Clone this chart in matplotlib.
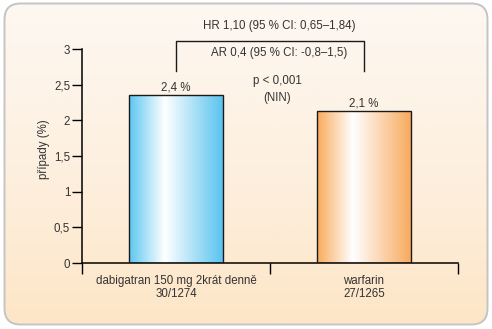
import numpy as np
import matplotlib.pyplot as plt
from matplotlib.colors import LinearSegmentedColormap
from matplotlib.patches import FancyBboxPatch, Rectangle

# --- Data ---
groups = ["dabigatran 150 mg 2krát denně", "warfarin"]
events = [30, 27]
patients = [1274, 1265]
rates = [100 * e / n for e, n in zip(events, patients)]
hr_text = "HR 1,10 (95 % CI: 0,65–1,84)"
ar_text = "AR 0,4 (95 % CI: -0,8–1,5)"
p_text = "p < 0,001"
nin_text = "(NIN)"
y_ticks = [0, 0.5, 1, 1.5, 2, 2.5, 3]
y_tick_labels = ["0", "0,5", "1", "1,5", "2", "2,5", "3"]

# --- Style ---
plt.rcParams["font.family"] = ["Liberation Sans", "DejaVu Sans"]
TXT = "#333333"
FS = 8.3
bar_edges = [("#5cc7f2", "#5ac4f0"), ("#f9ab5c", "#f8aa5e")]

fig = plt.figure(figsize=(4.92, 3.29), dpi=100)

# --- Rounded panel with vertical gradient ---
bg = fig.add_axes([0, 0, 1, 1], zorder=0)
bg.set_xlim(0, 492)
bg.set_ylim(329, 0)
bg.axis("off")
panel = FancyBboxPatch((4.5, 3.5), 483, 321, boxstyle="round,pad=0,rounding_size=16",
                       facecolor="none", edgecolor="#c4c4c4", linewidth=1.4, zorder=3)
bg.add_patch(panel)
bg_cmap = LinearSegmentedColormap.from_list("panel", ["#fdf8f2", "#fdf0e0", "#fde6c7"])
grad = np.linspace(0, 1, 256).reshape(-1, 1)
im = bg.imshow(grad, cmap=bg_cmap, extent=(4.5, 487.5, 324.5, 3.5), aspect="auto", zorder=1)
im.set_clip_path(panel)

# --- Main axes ---
ax = fig.add_axes([82 / 492, 66 / 329, 376 / 492, 214 / 329], zorder=2)
ax.patch.set_alpha(0)

width = 0.5
for i, (rate, (c_left, c_right)) in enumerate(zip(rates, bar_edges)):
    x0 = i - width / 2
    cmap = LinearSegmentedColormap.from_list(
        f"bar{i}", [(0, c_left), (0.38, "#ffffff"), (1, c_right)])
    img = ax.imshow(np.linspace(0, 1, 256).reshape(1, -1), cmap=cmap,
                    extent=(x0, x0 + width, 0, rate), aspect="auto", zorder=2)
    rect = Rectangle((x0, 0), width, rate, facecolor="none", edgecolor="#1a1a1a",
                     linewidth=1.0, zorder=3)
    ax.add_patch(rect)
    img.set_clip_path(rect)
    ax.text(i, rate + 0.02, f"{rate:.1f} %".replace(".", ","), ha="center", va="bottom",
            fontsize=FS, color=TXT)

ax.set_xlim(-0.5, 1.5)
ax.set_ylim(0, 3)

# --- Axes styling ---
for side in ["top", "right"]:
    ax.spines[side].set_visible(False)
ax.spines["left"].set_linewidth(1.1)
ax.spines["bottom"].set_linewidth(1.1)
ax.set_yticks(y_ticks)
ax.set_yticklabels(y_tick_labels, fontsize=FS, color=TXT)
ax.tick_params(axis="y", length=7, width=1.0, pad=1.5)
ax.set_xticks([-0.5, 0.5, 1.5])
ax.set_xticklabels([])
ax.tick_params(axis="x", direction="out", length=8, width=1.0)
for i, (g, e, n) in enumerate(zip(groups, events, patients)):
    ax.text(i, -0.17, f"{g}\n{e}/{n}", ha="center", va="top", fontsize=FS,
            color=TXT, linespacing=1.1)
ax.set_ylabel("případy (%)", fontsize=FS, color=TXT)
ax.yaxis.set_label_coords(-0.085, 0.53)

# --- Comparison bracket ---
ax.plot([0, 0, 1, 1], [2.69, 3.11, 3.11, 2.69], color="#1a1a1a", lw=1.0, clip_on=False)
ax.text(0.55, 3.32, hr_text, ha="center", va="center", fontsize=FS, color=TXT)
ax.text(0.55, 2.94, ar_text, ha="center", va="center", fontsize=FS, color=TXT)
ax.text(0.54, 2.55, p_text, ha="center", va="center", fontsize=FS, color=TXT)
ax.text(0.54, 2.31, nin_text, ha="center", va="center", fontsize=FS, color=TXT)

fig.savefig("out.png", dpi=100)
